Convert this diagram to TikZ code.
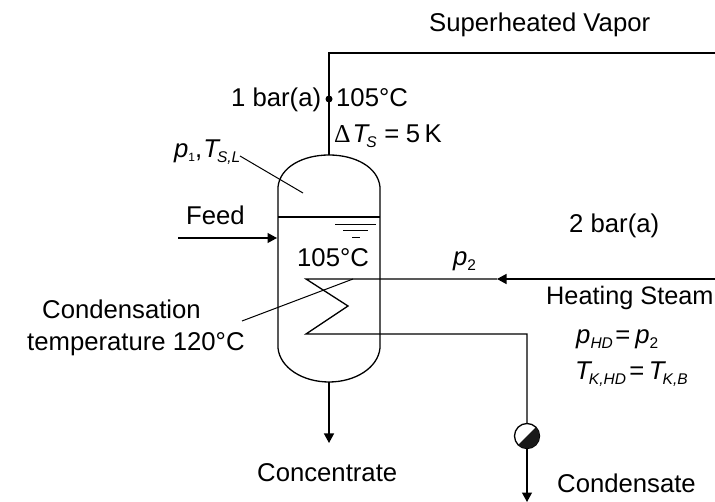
\documentclass[tikz,border=0pt]{standalone}
\usepackage{fontspec}
\setmainfont{Liberation Sans}
\newfontfamily\deltafont{Liberation Serif}
\usetikzlibrary{arrows.meta,calc}
\newcommand\sbs[1]{\raisebox{-5pt}{\fontsize{15.5}{15.5}\selectfont\itshape #1}}
\newcommand\sbn[1]{\raisebox{-5pt}{\fontsize{15.5}{15.5}\selectfont #1}}
\newcommand\tsb[1]{\textit{T}\hspace{-3.5pt}\sbs{#1}}
\tikzset{
  x=1pt,y=-1pt,
  lbl/.style={inner sep=0pt,anchor=base west,font=\fontsize{25.7}{25.7}\selectfont},
  pipe/.style={line width=1.3pt},
  thin leader/.style={line width=1pt},
  flow/.style={line width=1.3pt,-{Triangle[length=9.5pt,width=10pt]}}
}
\begin{document}
\begin{tikzpicture}
\useasboundingbox (0,0) rectangle (715,502);
% labels
\node[lbl] (sv) at (429,32) {Superheated Vapor};
\node[lbl] (p1bar) at (231,107) {1 bar(a)};
\node[lbl] (t1) at (336,107) {105°C};
\node[lbl] (dt) at (334,143) {{\deltafont Δ}\hspace{2pt}\tsb{S}\hspace{7.5pt}=\hspace{6.5pt}5\hspace{4.5pt}K};
\node[lbl] (pt) at (174,158) {\textit{p}\raisebox{-4pt}{\fontsize{12}{12}\selectfont 1},\hspace{1pt}\tsb{S,L}};
\node[lbl] (feed) at (186,225) {Feed};
\node[lbl] (t2) at (297,267) {105°C};
\node[lbl] (p2) at (453,266) {\textit{p}\sbn{2}};
\node[lbl] (bar2) at (569,233) {2 bar(a)};
\node[lbl,font=\fontsize{25.3}{25.3}\selectfont] (hs) at (546,305) {Heating Steam};
\node[lbl] (phd) at (576,344) {\textit{p}\sbs{HD}\hspace{2.5pt}=\hspace{5pt}\textit{p}\sbn{2}};
\node[lbl] (tk) at (575,380) {\tsb{K,HD}\hspace{3.5pt}=\hspace{4.5pt}\tsb{K,B}};
\node[lbl] (cond1) at (42,319) {Condensation};
\node[lbl] (cond2) at (27,351) {temperature 120°C};
\node[lbl] (conc) at (257,481) {Concentrate};
\node[lbl] (cons) at (557,493) {Condensate};
% vessel
\coordinate (top) at (329,155);
\coordinate (bot) at (329,382);
\coordinate (tl) at (278,187);
\coordinate (tr) at (380,187);
\coordinate (bl) at (278,348);
\coordinate (br) at (380,348);
\draw[pipe] (bl) -- (tl) .. controls (280,167) and (303,155) .. (top)
  .. controls (355,155) and (378,167) .. (tr) -- (br)
  .. controls (378,368) and (355,382) .. (bot)
  .. controls (303,382) and (280,368) .. (bl);
\coordinate (lvlL) at (278,217);
\coordinate (lvlR) at (380,217);
\draw[pipe] (lvlL) -- (lvlR);
% liquid level mark
\draw[line width=1pt] (335,225) -- (376,225) (343,231) -- (368,231) (352,238) -- (360,238);
% vapour line
\coordinate (svEnd) at (715,53);
\coordinate (corner) at (329,53);
\draw[pipe] (top) -- (corner) -- (svEnd);
\node[circle,fill=black,inner sep=0pt,minimum size=7pt] (dot) at (329,99) {};
% feed
\coordinate (feedS) at (178,238);
\coordinate (feedE) at (277,238);
\draw[flow] (feedS) -- (feedE);
% heating steam
\coordinate (hsS) at (715,279);
\coordinate (arrTip) at (497,279);
\coordinate (c1) at (306,279);
\coordinate (c2) at (348,306);
\coordinate (c3) at (306,334);
\coordinate (c4) at (527,334);
\draw[flow] (hsS) -- (arrTip);
\draw[pipe] (arrTip) -- (c1) -- (c2) -- (c3) -- (c4) -- (527,423);
% trap
\node[circle,draw,line width=1.3pt,fill=white,minimum size=25pt,inner sep=0pt] (trap) at (527,436) {};
\fill[black!90] ($(trap.center)+(8.8,-8.8)$) arc (-45:135:12.4) -- cycle;
\coordinate (consE) at (527,502);
\draw[flow] (trap.south) -- (consE);
% concentrate
\coordinate (concE) at (329,443);
\draw[flow] (bot) -- (concE);
% leaders
\coordinate (l1a) at (240,156);
\coordinate (l1b) at (303,193);
\draw[thin leader] (l1a) -- (l1b);
\coordinate (l2a) at (353,279);
\coordinate (l2b) at (242,321);
\draw[thin leader] (l2a) -- (l2b);
\end{tikzpicture}
\end{document}
